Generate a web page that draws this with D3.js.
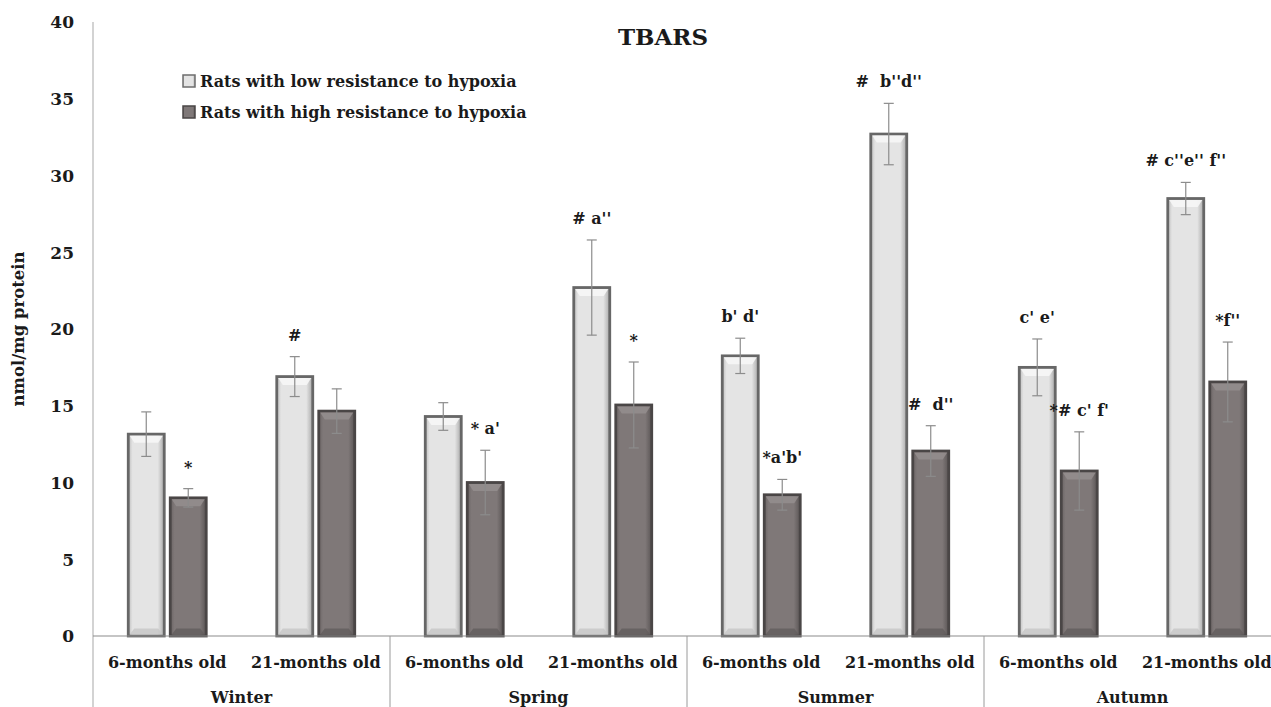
<!DOCTYPE html>
<html>
<head>
<meta charset="utf-8">
<script src="https://cdn.jsdelivr.net/npm/d3@7"></script>
<style>
  body { margin: 0; background: #fff; }
  svg text { font-family: "DejaVu Serif", "Liberation Serif", serif; font-weight: bold; fill: #1a1a1a; }
</style>
</head>
<body>
<svg id="chart" width="1271" height="707"></svg>
<script>
// data
var seasons = ["Winter", "Spring", "Summer", "Autumn"];
var ages = ["6-months old", "21-months old"];
var series = ["Rats with low resistance to hypoxia", "Rats with high resistance to hypoxia"];
// order: season x age
var lowValues  = [13.15, 16.9, 14.3, 22.7, 18.25, 32.7, 17.5, 28.5];
var lowErrors  = [1.45, 1.3, 0.9, 3.1, 1.15, 2.0, 1.85, 1.05];
var highValues = [9.0, 14.65, 10.0, 15.05, 9.2, 12.05, 10.75, 16.55];
var highErrors = [0.6, 1.45, 2.1, 2.8, 1.0, 1.65, 2.55, 2.6];
var lowNotes  = ["", "#", "", "# a''", "b' d'", "#  b''d''", "c' e'", "# c''e'' f''"];
var highNotes = ["*", "", "* a'", "*", "*a'b'", "#  d''", "*# c' f'", "*f''"];
var yTicks = [0, 5, 10, 15, 20, 25, 30, 35, 40];

var svg = d3.select("#chart");
var left = 93, plotTop = 22, bottom = 636, seasonW = 297;

var y = d3.scaleLinear().domain([0, 40]).range([bottom, plotTop]);
var x0 = d3.scaleBand().domain(seasons).range([left, left + seasonW * seasons.length]);
var x1 = d3.scaleBand().domain(ages).range([0, x0.bandwidth()]);
var x2 = d3.scaleBand().domain([0, 1]).range([0, x1.bandwidth()])
  .paddingInner(0.143).paddingOuter(0.84);

// gradients for the bevelled bars
var defs = svg.append("defs");
function sideGrad(id, c1, c2, c3) {
  var g = defs.append("linearGradient").attr("id", id).attr("x1", 0).attr("x2", 1).attr("y1", 0).attr("y2", 0);
  g.append("stop").attr("offset", "0%").attr("stop-color", c1);
  g.append("stop").attr("offset", "12%").attr("stop-color", c2);
  g.append("stop").attr("offset", "82%").attr("stop-color", c2);
  g.append("stop").attr("offset", "100%").attr("stop-color", c3);
}
sideGrad("gLow", "#bdbdbd", "#e4e4e4", "#a8a8a8");
sideGrad("gHigh", "#6a6464", "#7f7878", "#5a5555");

var bars = [];
seasons.forEach(function (s, si) {
  ages.forEach(function (a, ai) {
    var i = si * 2 + ai;
    bars.push({ s: s, a: a, k: 0, v: lowValues[i], e: lowErrors[i], note: lowNotes[i] });
    bars.push({ s: s, a: a, k: 1, v: highValues[i], e: highErrors[i], note: highNotes[i] });
  });
});

// y axis
var yAxis = d3.axisLeft(y).tickValues(yTicks).tickSize(0).tickPadding(19);
var ya = svg.append("g").attr("transform", "translate(" + left + ",0)").call(yAxis);
ya.select(".domain").remove();
ya.selectAll("text").style("font-size", "17px").style("font-family", null).attr("dy", "0.35em");
svg.append("line").attr("x1", left).attr("x2", left).attr("y1", plotTop).attr("y2", 707)
  .attr("stroke", "#c4c4c4").attr("stroke-width", 1.5);

svg.append("text").attr("transform", "translate(24," + y(20) + ") rotate(-90)")
  .attr("text-anchor", "middle").style("font-size", "16.5px").text("nmol/mg protein");

// bars
var g = svg.append("g");
var bar = g.selectAll(".bar").data(bars).join("g").attr("class", "bar")
  .attr("transform", function (d) { return "translate(" + (x0(d.s) + x1(d.a) + x2(d.k)) + ",0)"; });
var bw = x2.bandwidth();
bar.append("rect")
  .attr("x", 0).attr("width", bw)
  .attr("y", function (d) { return y(d.v); })
  .attr("height", function (d) { return y(0) - y(d.v); })
  .attr("fill", function (d) { return d.k ? "url(#gHigh)" : "url(#gLow)"; })
  .attr("stroke", function (d) { return d.k ? "#4a4646" : "#676767"; })
  .attr("stroke-width", 2.8);
// top bevel
bar.append("path")
  .attr("d", function (d) {
    var t = y(d.v) + 1.5;
    return "M1.5," + t + "L" + (bw - 1.5) + "," + t + "L" + (bw - 6) + "," + (t + 7) + "L6," + (t + 7) + "Z";
  })
  .attr("fill", function (d) { return d.k ? "#938d8d" : "#f6f6f6"; })
  .attr("opacity", 0.9);
// bottom bevel
bar.append("path")
  .attr("d", function (d) {
    var b = y(0) - 1.5;
    return "M1.5," + b + "L" + (bw - 1.5) + "," + b + "L" + (bw - 6) + "," + (b - 6) + "L6," + (b - 6) + "Z";
  })
  .attr("fill", function (d) { return d.k ? "#615c5c" : "#c6c6c6"; })
  .attr("opacity", 0.8);

// error bars
var err = bar.append("g").attr("stroke", "#8c8c8c").attr("stroke-width", 1.2);
err.append("line").attr("x1", bw / 2).attr("x2", bw / 2)
  .attr("y1", function (d) { return y(d.v + d.e); })
  .attr("y2", function (d) { return y(d.v - d.e); });
err.append("line").attr("x1", bw / 2 - 5).attr("x2", bw / 2 + 5)
  .attr("y1", function (d) { return y(d.v + d.e); }).attr("y2", function (d) { return y(d.v + d.e); });
err.append("line").attr("x1", bw / 2 - 5).attr("x2", bw / 2 + 5)
  .attr("y1", function (d) { return y(d.v - d.e); }).attr("y2", function (d) { return y(d.v - d.e); });

// significance notes
bar.append("text").attr("x", bw / 2).attr("text-anchor", "middle")
  .attr("y", function (d) { return y(d.v + d.e) - 16; })
  .style("font-size", "16px").style("white-space", "pre")
  .text(function (d) { return d.note; });

// baseline and category axis
svg.append("line").attr("x1", left).attr("x2", 1271).attr("y1", bottom).attr("y2", bottom)
  .attr("stroke", "#8c8c8c").attr("stroke-width", 1.2);
seasons.forEach(function (s, si) {
  if (si > 0) {
    svg.append("line").attr("x1", x0(s)).attr("x2", x0(s)).attr("y1", bottom).attr("y2", 707)
      .attr("stroke", "#9a9a9a").attr("stroke-width", 1);
  }
  ages.forEach(function (a) {
    svg.append("text").attr("x", x0(s) + x1(a) + x1.bandwidth() / 2).attr("y", 668)
      .attr("text-anchor", "middle").style("font-size", "16px").text(a);
  });
  svg.append("text").attr("x", x0(s) + x0.bandwidth() / 2).attr("y", 703)
    .attr("text-anchor", "middle").style("font-size", "16px").text(s);
});

// title
svg.append("text").attr("x", 663).attr("y", 45).attr("text-anchor", "middle")
  .style("font-size", "23px").text("TBARS");

// legend
var leg = svg.append("g").selectAll("g").data(series).join("g")
  .attr("transform", function (d, i) { return "translate(183," + (75 + i * 31) + ")"; });
leg.append("rect").attr("width", 12).attr("height", 12)
  .attr("fill", function (d, i) { return i ? "url(#gHigh)" : "url(#gLow)"; })
  .attr("stroke", function (d, i) { return i ? "#4a4646" : "#6e6e6e"; }).attr("stroke-width", 1.5);
leg.append("text").attr("x", 17).attr("y", 12).style("font-size", "16px").text(function (d) { return d; });
</script>
</body>
</html>
